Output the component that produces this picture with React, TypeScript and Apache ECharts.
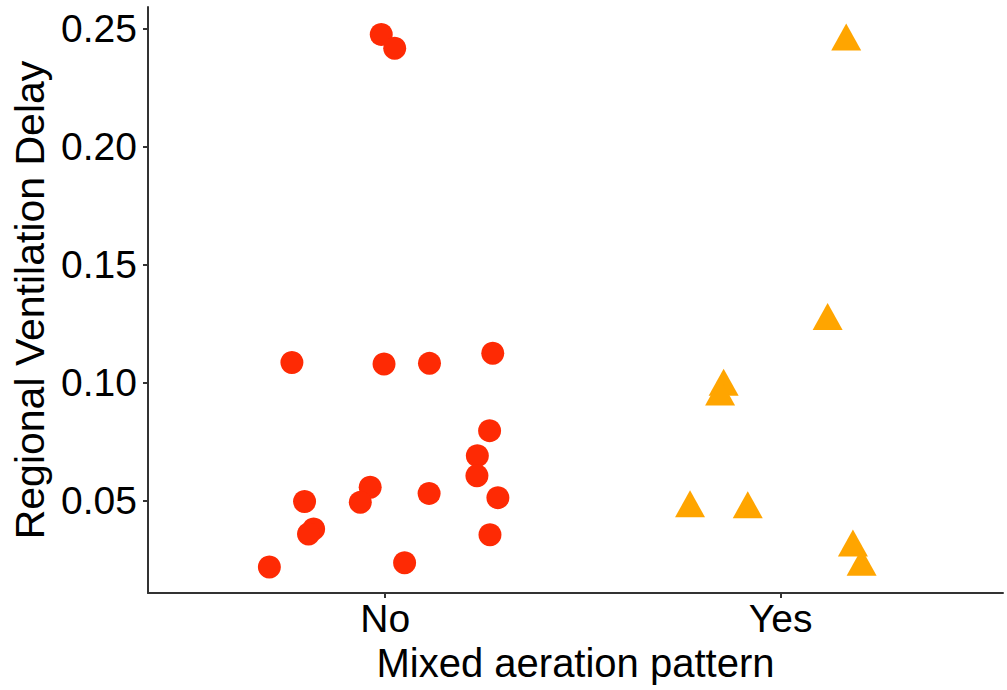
import React, { useEffect, useRef } from "react";
import * as echarts from "echarts";

const categories = ["No", "Yes"];
const yTicks = [0.05, 0.1, 0.15, 0.2, 0.25];

// jittered positions (category index 1 = No, 2 = Yes)
const noX = [0.99, 1.024, 0.764, 0.997, 1.112, 1.272, 1.264, 1.233, 1.232, 1.285, 1.265, 1.111, 0.962, 0.937, 0.796, 0.819, 0.806, 0.707, 1.049];
const noY = [0.2476, 0.2417, 0.1086, 0.1079, 0.1082, 0.1125, 0.0797, 0.0691, 0.0606, 0.0513, 0.0356, 0.0531, 0.0557, 0.0493, 0.0497, 0.038, 0.0359, 0.0219, 0.0237];
const yesX = [2.166, 2.119, 1.856, 1.847, 1.771, 1.917, 2.183, 2.205];
const yesY = [0.2465, 0.1281, 0.1002, 0.0961, 0.0487, 0.0483, 0.0321, 0.0239];

const FONT = "Liberation Sans, Arial, Helvetica, sans-serif";

export default function App() {
  const ref = useRef<HTMLDivElement>(null);
  useEffect(() => {
    const chart = echarts.init(ref.current!, null, { renderer: "svg" });
    const axisColor = "#333333";
    chart.setOption({
      animation: false,
      backgroundColor: "#ffffff",
      grid: { left: 148, right: 4, top: 7, bottom: 97, containLabel: false },
      xAxis: {
        type: "value",
        min: 0.4,
        max: 2.5626,
        splitLine: { show: false },
        axisLine: { show: true, onZero: false, lineStyle: { color: axisColor, width: 2 } },
        axisTick: { show: true, customValues: [1, 2], length: 5, lineStyle: { color: axisColor, width: 2 } },
        axisLabel: {
          customValues: [1, 2],
          formatter: (v: number) => categories[Math.round(v) - 1] ?? "",
          fontSize: 39,
          color: "#000",
          fontFamily: FONT,
          margin: 6,
        },
        name: "Mixed aeration pattern",
        nameLocation: "middle",
        nameGap: 49,
        nameTextStyle: { fontSize: 40, color: "#000", fontFamily: FONT },
      },
      yAxis: {
        type: "value",
        min: 0.0109,
        max: 0.2592,
        splitLine: { show: false },
        axisLine: { show: true, onZero: false, lineStyle: { color: axisColor, width: 2 } },
        axisTick: { show: true, customValues: yTicks, length: 5, lineStyle: { color: axisColor, width: 2 } },
        axisLabel: {
          customValues: yTicks,
          formatter: (v: number) => v.toFixed(2),
          fontSize: 39,
          color: "#000",
          fontFamily: FONT,
          margin: 11,
        },
        name: "Regional Ventilation Delay",
        nameLocation: "middle",
        nameGap: 98,
        nameRotate: 90,
        nameTextStyle: { fontSize: 41, color: "#000", fontFamily: FONT },
      },
      series: [
        {
          name: "No",
          type: "scatter",
          symbol: "circle",
          symbolSize: 23,
          itemStyle: { color: "#FE2A04", opacity: 1 },
          data: noX.map((x, i) => [x, noY[i]]),
        },
        {
          name: "Yes",
          type: "scatter",
          symbol: "triangle",
          symbolSize: [30, 27],
          itemStyle: { color: "#FFA500", opacity: 1 },
          data: yesX.map((x, i) => [x, yesY[i]]),
        },
      ],
    });
    return () => chart.dispose();
  }, []);
  return (
    <div
      ref={ref}
      style={{ position: "fixed", left: 0, top: 0, width: 1007, height: 690, background: "#fff" }}
    />
  );
}
